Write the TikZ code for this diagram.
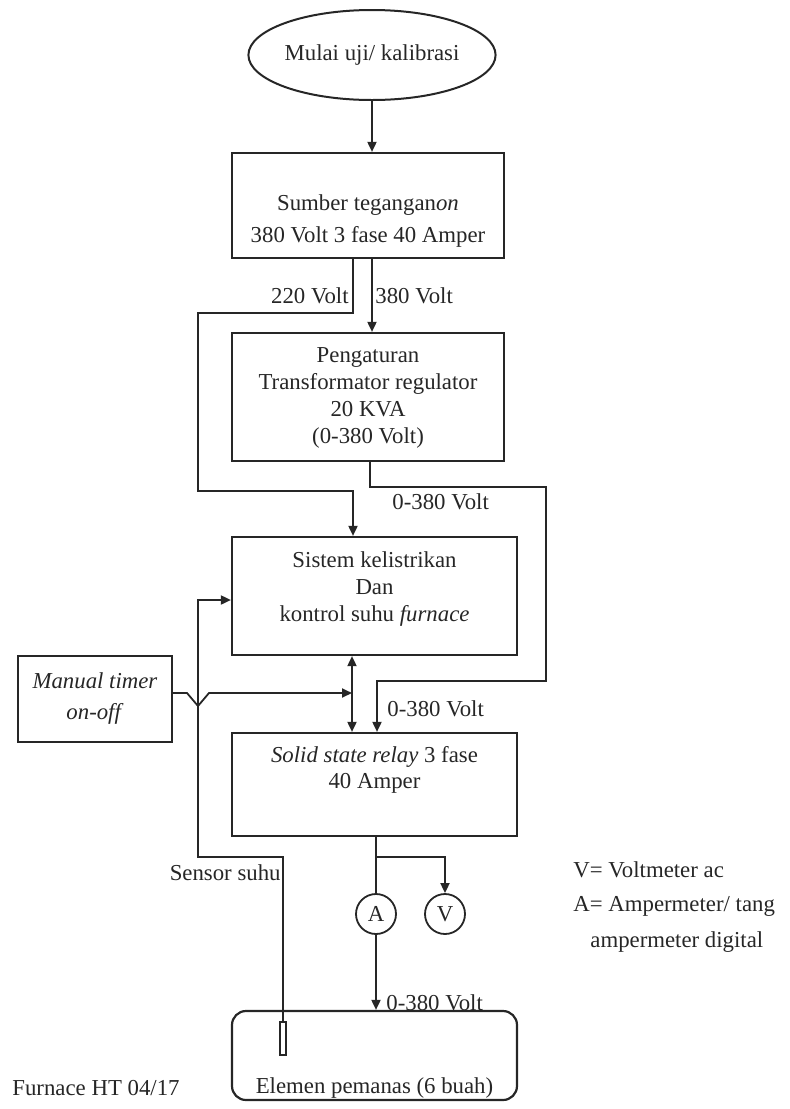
\documentclass[tikz,border=0pt]{standalone}
\usepackage{fontspec}
\setmainfont{Liberation Serif}
\usetikzlibrary{shapes.geometric,arrows.meta,calc}
\tikzset{
  base/.style={font=\fontsize{11.4pt}{13.5pt}\selectfont, text=black!85},
  box/.style={draw=black!85, line width=1.1pt, rectangle, inner sep=0pt},
  txt/.style={base, align=center, inner sep=0pt},
  lab/.style={base, inner sep=0pt},
  meter/.style={draw=black!85, line width=0.9pt, circle, minimum size=20pt, inner sep=0pt, base},
  wire/.style={draw=black!85, line width=0.9pt},
  arr/.style={wire, -{Triangle[length=5pt,width=4.5pt]}},
  darr/.style={wire, {Triangle[length=5pt,width=4.5pt]}-{Triangle[length=5pt,width=4.5pt]}}
}
\begin{document}
\begin{tikzpicture}[x=0.5pt,y=-0.5pt]
\useasboundingbox (0,0) rectangle (789,1109);
% nodes
\node[draw=black!85, line width=1pt, ellipse, minimum width=96.5pt, minimum height=45pt, inner sep=0pt, base] (start) at (372,55) {Mulai uji/ kalibrasi};
\node[box, minimum width=136pt, minimum height=52.5pt] (b1) at (368,205.5) {};
\node[txt, font=\fontsize{11.4pt}{16pt}\selectfont] (b1t) at (368,221) {Sumber tegangan\textit{on}\\380 Volt 3 fase 40 Amper};
\node[box, minimum width=136pt, minimum height=64pt] (b2) at (368,397) {};
\node[txt] (b2t) at (368,398) {Pengaturan\\Transformator regulator\\20 KVA\\(0-380 Volt)};
\node[box, minimum width=142.5pt, minimum height=59pt] (b3) at (374.5,596) {};
\node[txt] (b3t) at (374.5,589) {Sistem kelistrikan\\Dan\\kontrol suhu \textit{furnace}};
\node[box, minimum width=77pt, minimum height=43pt] (manual) at (95,699) {};
\node[txt, font=\fontsize{11.4pt}{15.5pt}\selectfont] (mant) at (95,699) {\textit{Manual timer}\\\textit{on-off}};
\node[box, minimum width=142.5pt, minimum height=51.5pt] (b4) at (374.5,784.5) {};
\node[txt, font=\fontsize{11.4pt}{12.8pt}\selectfont] (b4t) at (374.5,770) {\textit{Solid state relay} 3 fase\\40 Amper};
\node[meter] (A) at (376,914) {A};
\node[meter] (V) at (445,914) {V};
\node[box, rounded corners=7pt, minimum width=142.5pt, minimum height=44.5pt] (b5) at (374.5,1055.5) {};
\node[lab] (b5t) at (374.5,1088) {Elemen pemanas (6 buah)};
\node[draw=black!85, line width=0.8pt, rectangle, minimum width=3pt, minimum height=16.5pt, inner sep=0pt] (sensor) at (283,1038.5) {};
\node[lab] (furn) at (96,1088) {Furnace HT 04/17};
\node[lab, anchor=west] (legV) at (573,870) {V= Voltmeter ac};
\node[lab, anchor=west] (legA) at (573,906) {A= Ampermeter/ tang};
\node[lab, anchor=west] (legA2) at (590,942) {ampermeter digital};
% labels
\node[lab, anchor=east] (l220) at (349,296) {220 Volt};
\node[lab, anchor=west] (l380) at (375,296) {380 Volt};
\node[lab, anchor=west] (l0a) at (392,502) {0-380 Volt};
\node[lab, anchor=west] (l0b) at (387,709) {0-380 Volt};
\node[lab, anchor=west] (l0c) at (386,1003) {0-380 Volt};
\node[lab, anchor=east] (lsens) at (281,873) {Sensor suhu};
% coordinates
\coordinate (c220a) at (353,313);
\coordinate (c220b) at (198,313);
\coordinate (c220c) at (198,491);
\coordinate (c220d) at (353,491);
\coordinate (c380) at (372,300);
\coordinate (r1) at (370,487);
\coordinate (r2) at (546,487);
\coordinate (r3) at (546,681);
\coordinate (r4) at (377,681);
\coordinate (dd) at (352,700);
\coordinate (m1) at (187,693);
\coordinate (m2) at (198,706);
\coordinate (m3) at (209,693);
\coordinate (s1) at (283,857);
\coordinate (s2) at (198,857);
\coordinate (s3) at (198,600);
\coordinate (k1) at (376,857);
\coordinate (k2) at (445,857);
% connectors
\draw[arr] (start.south) -- (b1.north -| start.south);
\draw[arr] (b1.south -| c220a) -- (c220a) -- (c220b) -- (c220c) -- (c220d) -- (b3.north -| c220d);
\draw[arr] (b1.south -| c380) -- (b2.north -| c380);
\draw[arr] (b2.south -| r1) -- (r1) -- (r2) -- (r3) -- (r4) -- (b4.north -| r4);
\draw[darr] (b3.south -| dd) -- (b4.north -| dd);
\draw[arr] (manual.east |- m1) -- (m1) -- (m2) -- (m3) -- (dd |- m1);
\draw[arr] (sensor.north) -- (s1) -- (s2) -- (s3) -- (b3.west |- s3);
\draw[wire] (b4.south -| A) -- (A.north);
\draw[arr] (k1) -- (k2) -- (V.north);
\draw[arr] (A.south) -- (b5.north -| A);
\end{tikzpicture}
\end{document}
